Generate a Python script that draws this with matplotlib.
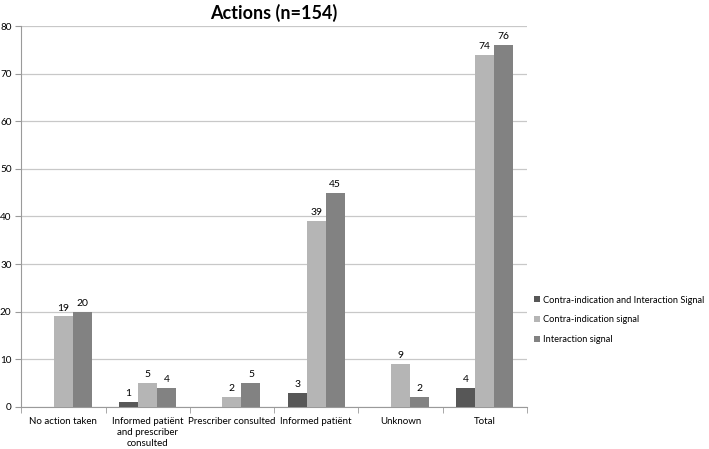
import numpy as np
import matplotlib.pyplot as plt

# ====== Datos ======
categorias = ["No action taken", "Informed patiënt\nand prescriber\nconsulted",
              "Prescriber consulted", "Informed patiënt", "Unknown", "Total"]
series = ["Contra-indication and Interaction Signal", "Contra-indication signal",
          "Interaction signal"]
contra_e_inter = [np.nan, 1, np.nan, 3, np.nan, 4]
contra = [19, 5, 2, 39, 9, 74]
inter = [20, 4, 5, 45, 2, 76]
colores = ["#575757", "#b5b5b5", "#828282"]

plt.rcParams['font.family'] = ['Lato', 'DejaVu Sans']

fig = plt.figure(figsize=(7.09, 4.49), dpi=100)
ax = fig.add_axes([0.030, 0.094, 0.713, 0.848])

x = np.arange(len(categorias))
ancho = 0.226
for i, (vals, nombre) in enumerate(zip([contra_e_inter, contra, inter], series)):
    pos = x + (i - 1) * ancho
    ax.bar(pos, vals, ancho, color=colores[i], label=nombre, zorder=3)
    for p, v in zip(pos, vals):
        if not np.isnan(v):
            ax.text(p, v + 0.8, f"{int(v)}", ha="center", va="bottom", fontsize=7.5)

ax.set_xlim(-0.5, len(categorias) - 0.5)
ax.set_ylim(0, 80)
ax.set_yticks(range(0, 81, 10))
ax.yaxis.grid(True, color="#c8c8c8", linewidth=0.9, zorder=0)
ax.set_xticks(x)
ax.set_xticklabels(categorias, fontsize=7, linespacing=1.35)
ax.set_xticks(np.arange(-0.5, len(categorias)), minor=True)
ax.tick_params(axis="x", which="major", length=0, pad=7)
ax.tick_params(axis="x", which="minor", length=4, color="#9a9a9a")
ax.tick_params(axis="y", length=4, color="#9a9a9a", labelsize=7.2, pad=3)

for lado in ["top", "right"]:
    ax.spines[lado].set_visible(False)
for lado in ["left", "bottom"]:
    ax.spines[lado].set_color("#9a9a9a")

ax.set_title("Actions (n=154)", fontsize=13, fontweight="bold", pad=5)

fig.legend(loc="upper left", bbox_to_anchor=(0.748, 0.350), frameon=False,
           fontsize=6.7, handlelength=0.6, handleheight=0.6, handletextpad=0.4,
           labelspacing=1.15, borderaxespad=0)

fig.savefig("out.png", dpi=100)
